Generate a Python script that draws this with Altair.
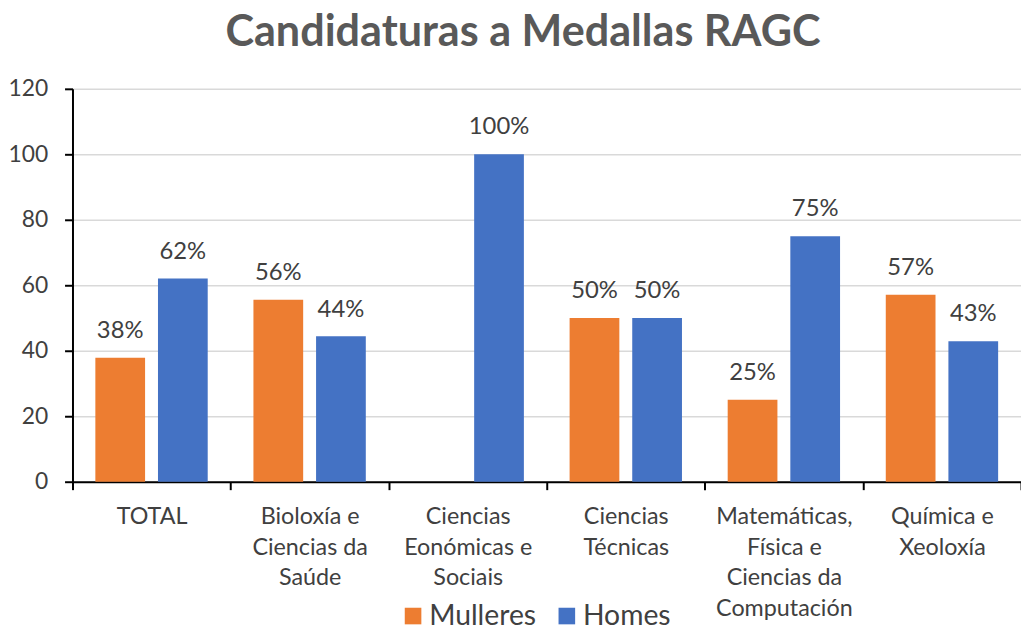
import altair as alt
import pandas as pd

categories = [
    "TOTAL",
    "Bioloxía e\nCiencias da\nSaúde",
    "Ciencias\nEonómicas e\nSociais",
    "Ciencias\nTécnicas",
    "Matemáticas,\nFísica e\nCiencias da\nComputación",
    "Química e\nXeoloxía",
]
mulleres = [37.9, 55.6, 0, 50, 25, 57.1]
homes = [62.1, 44.4, 100, 50, 75, 42.9]
series = ["Mulleres", "Homes"]
colors = ["#ED7D31", "#4472C4"]
y_ticks = [0, 20, 40, 60, 80, 100, 120]

rows = []
for c, m, h in zip(categories, mulleres, homes):
    rows.append({"cat": c, "serie": "Mulleres", "val": m, "lab": f"{round(m)}%"})
    rows.append({"cat": c, "serie": "Homes", "val": h, "lab": f"{round(h)}%"})
df = pd.DataFrame(rows)

FONT = "Lato"

x_enc = alt.X(
    "cat:N",
    sort=categories,
    title=None,
    scale=alt.Scale(paddingInner=0, paddingOuter=0),
    axis=alt.Axis(
        labelExpr="split(datum.label, '\\n')",
        labelAngle=0,
        labelFontSize=23.5,
        labelFont=FONT,
        labelColor="#404040",
        labelLineHeight=31,
        labelPadding=15,
        labelBaseline="top",
        tickBand="extent",
        tickSize=8,
        tickColor="#000000",
        tickWidth=2,
        domainColor="#000000",
        domainWidth=2,
        grid=False,
    ),
)
xo_enc = alt.XOffset(
    "serie:N",
    sort=series,
    scale=alt.Scale(paddingInner=0.206, paddingOuter=0.365),
)
y_enc = alt.Y(
    "val:Q",
    title=None,
    scale=alt.Scale(domain=[0, 120], nice=False),
    axis=alt.Axis(
        values=y_ticks,
        labelFontSize=23,
        labelFont=FONT,
        labelColor="#404040",
        labelPadding=17,
        tickSize=8,
        tickColor="#000000",
        tickWidth=2,
        domainColor="#000000",
        domainWidth=2,
        gridColor="#D9D9D9",
        gridWidth=1.5,
    ),
)
color_enc = alt.Color(
    "serie:N",
    sort=series,
    scale=alt.Scale(domain=series, range=colors),
    legend=alt.Legend(
        title=None,
        orient="none",
        legendX=329,
        legendY=517,
        direction="horizontal",
        symbolType="square",
        symbolSize=280,
        symbolStrokeWidth=0,
        labelFontSize=28.5,
        labelFont=FONT,
        labelColor="#404040",
        columnPadding=16,
        labelOffset=2,
    ),
)

bars = alt.Chart(df).mark_bar().encode(
    x=x_enc, xOffset=xo_enc, y=y_enc, color=color_enc
)
texts = (
    alt.Chart(df)
    .transform_filter("datum.val > 0")
    .mark_text(fontSize=24, font=FONT, color="#404040", baseline="alphabetic", dy=-20)
    .encode(x=x_enc, xOffset=xo_enc, y=y_enc, text="lab:N")
)

chart = (
    alt.layer(bars, texts)
    .properties(
        width=956,
        height=396,
        autosize=alt.AutoSizeParams(type="none"),
        padding={"left": 65, "top": 79, "right": 0, "bottom": 149},
        title=alt.Title(
            "Candidaturas a Medallas RAGC",
            fontSize=43.5,
            font=FONT,
            fontWeight="bold",
            color="#595959",
            offset=23,
            dx=-24,
        ),
    )
    .configure_view(stroke=None)
)

chart.save("out.html", embed_options={"renderer": "svg", "actions": False})
